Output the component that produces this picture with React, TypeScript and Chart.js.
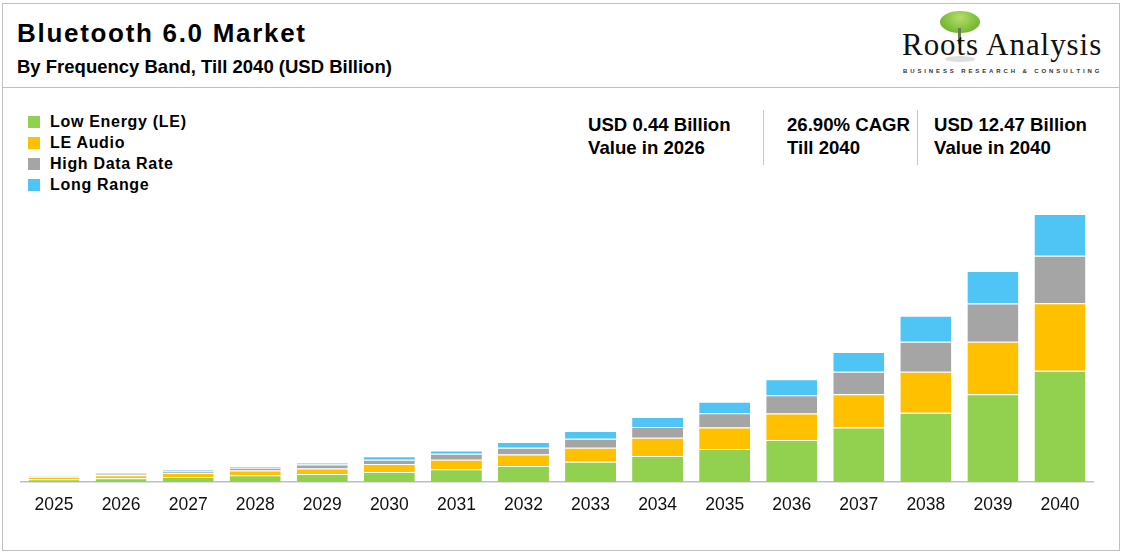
import React, { useEffect, useRef } from "react";
import { Chart, registerables } from "chart.js";

Chart.register(...registerables);

const years = ["2025","2026","2027","2028","2029","2030","2031","2032","2033","2034","2035","2036","2037","2038","2039","2040"];
const lowEnergy = [0.13,0.18,0.23,0.31,0.37,0.47,0.59,0.74,0.94,1.21,1.54,1.95,2.53,3.22,4.08,5.18];
const leAudio = [0.11,0.13,0.19,0.22,0.26,0.37,0.44,0.54,0.65,0.85,0.99,1.24,1.55,1.91,2.45,3.14];
const highDataRate = [0.03,0.07,0.07,0.13,0.19,0.19,0.28,0.31,0.42,0.50,0.67,0.85,1.05,1.40,1.77,2.21];
const longRange = [0.02,0.06,0.08,0.07,0.09,0.17,0.15,0.27,0.36,0.47,0.53,0.74,0.92,1.20,1.52,1.94];

const seriesNames = ["Low Energy (LE)", "LE Audio", "High Data Rate", "Long Range"];
const seriesColors = ["#92d050", "#ffc000", "#a5a5a5", "#4fc5f5"];
const stats = [
  ["USD 0.44 Billion", "Value in 2026"],
  ["26.90% CAGR", "Till 2040"],
  ["USD 12.47 Billion", "Value in 2040"],
];

const FONT = "'Liberation Sans', Arial, sans-serif";

function txt(fs: number, baseline: number) {
  return { position: "absolute" as const, top: baseline - 0.8465 * fs, fontSize: fs, lineHeight: fs + "px", whiteSpace: "nowrap" as const };
}

export default function App() {
  const ref = useRef<HTMLCanvasElement | null>(null);
  useEffect(() => {
    document.body.style.margin = "0";
    const values = [lowEnergy, leAudio, highDataRate, longRange];
    const chart = new Chart(ref.current!, {
      type: "bar",
      data: {
        labels: years,
        datasets: values.map((d, i) => ({
          label: seriesNames[i],
          data: d,
          backgroundColor: seriesColors[i],
          borderColor: "#ffffff",
          borderWidth: { top: 1, bottom: 0, left: 0, right: 0 },
          borderSkipped: false,
          barPercentage: 0.76,
          categoryPercentage: 1,
        })),
      },
      options: {
        animation: false,
        responsive: false,
        maintainAspectRatio: false,
        layout: { padding: { top: 12.6, bottom: 0, left: 20.5, right: 29.5 } },
        plugins: { legend: { display: false }, tooltip: { enabled: false } },
        scales: {
          x: {
            stacked: true,
            grid: { display: false, drawTicks: false },
            border: { display: true, color: "#bfbfbf", width: 1.5 },
            ticks: { color: "#111", font: { family: FONT, size: 17.5 }, padding: 13, maxRotation: 0 },
            afterFit: (s: any) => { s.height = 48; },
          },
          y: { stacked: true, display: false, min: 0, max: 13 },
        },
      },
    });
    return () => chart.destroy();
  }, []);

  return (
    <div style={{ position: "relative", width: 1123, height: 553, background: "#fff", fontFamily: FONT, color: "#000", overflow: "hidden" }}>
      <div style={{ position: "absolute", left: 2, top: 3, width: 1116, height: 546, border: "1px solid #c0c0c0" }} />
      <div style={{ position: "absolute", left: 2, top: 87, width: 1118, height: 1, background: "#c0c0c0" }} />
      <div style={{ ...txt(26, 42), left: 17, fontWeight: 700, letterSpacing: 1.7 }}>Bluetooth 6.0 Market</div>
      <div style={{ ...txt(18.5, 73.3), left: 17, fontWeight: 700 }}>By Frequency Band, Till 2040 (USD Billion)</div>

      {/* logo */}
      <div style={{ position: "absolute", left: 940, top: 11, width: 40, height: 22, borderRadius: "50%", background: "radial-gradient(ellipse at 50% 30%, #b8dd6a 0%, #7cbf3a 60%, #5fa52c 100%)" }} />
      <div style={{ position: "absolute", left: 958, top: 28, width: 3, height: 16, background: "#6b7a4a" }} />
      <div style={{ position: "absolute", left: 945, top: 56, width: 30, height: 6, borderRadius: "50%", background: "rgba(160,160,160,0.35)" }} />
      <div style={{ ...txt(31, 55.3), left: 902, fontFamily: "'Liberation Serif', 'Times New Roman', serif", letterSpacing: 0.95, color: "#111" }}>Roots Analysis</div>
      <div style={{ ...txt(6, 73.5), left: 903, fontWeight: 700, letterSpacing: 2.88, color: "#333" }}>BUSINESS RESEARCH &amp; CONSULTING</div>

      {/* legend */}
      {seriesNames.map((n, i) => (
        <React.Fragment key={n}>
          <div style={{ position: "absolute", left: 28, top: 122.3 + i * 20.8 - 6, width: 12, height: 12, background: seriesColors[i] }} />
          <div style={{ ...txt(16, 128 + i * 20.8), left: 50, fontWeight: 700, letterSpacing: 0.7 }}>{n}</div>
        </React.Fragment>
      ))}

      {/* stats */}
      {stats.map((s, i) => (
        <React.Fragment key={i}>
          <div style={{ ...txt(18.6, 131.6), left: [588, 787, 934][i], fontWeight: 700 }}>{s[0]}</div>
          <div style={{ ...txt(18.6, 154.6), left: [588, 787, 934][i], fontWeight: 700 }}>{s[1]}</div>
        </React.Fragment>
      ))}
      <div style={{ position: "absolute", left: 763, top: 110, width: 1, height: 55, background: "#c8c8c8" }} />
      <div style={{ position: "absolute", left: 917, top: 110, width: 1, height: 55, background: "#c8c8c8" }} />

      <canvas ref={ref} width={1123} height={340} style={{ position: "absolute", left: 0, top: 190, width: 1123, height: 340 }} />
    </div>
  );
}
